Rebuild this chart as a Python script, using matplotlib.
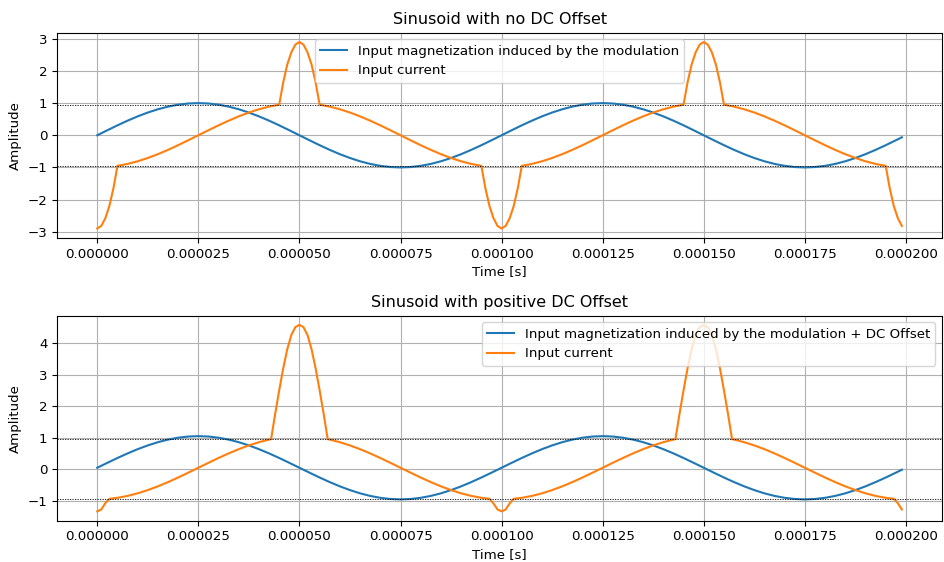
import numpy as np
import matplotlib
matplotlib.use("Agg")
import matplotlib.pyplot as plt

plt.rcParams['font.size'] = 9.6

# Tiempos en microsegundos (se pasan a segundos al dibujar)
t_mag_us = [0, 2.5, 5, 7.5, 10, 12.5, 15, 17.5, 20, 22.5, 25, 27.5, 30, 32.5, 35, 37.5,
            40, 42.5, 45, 47.5, 50, 52.5, 55, 57.5, 60, 62.5, 65, 67.5, 70, 72.5, 75, 77.5,
            80, 82.5, 85, 87.5, 90, 92.5, 95, 97.5, 100, 102.5, 105, 107.5, 110, 112.5, 115, 117.5,
            120, 122.5, 125, 127.5, 130, 132.5, 135, 137.5, 140, 142.5, 145, 147.5, 150, 152.5, 155, 157.5,
            160, 162.5, 165, 167.5, 170, 172.5, 175, 177.5, 180, 182.5, 185, 187.5, 190, 192.5, 195, 197.5, 199]

# Magnetizacion sin offset
mag_no_dc = [0, 0.156, 0.309, 0.454, 0.588, 0.707, 0.809, 0.891, 0.951, 0.988,
             1.0, 0.988, 0.951, 0.891, 0.809, 0.707, 0.588, 0.454, 0.309, 0.156,
             0, -0.156, -0.309, -0.454, -0.588, -0.707, -0.809, -0.891, -0.951, -0.988,
             -1.0, -0.988, -0.951, -0.891, -0.809, -0.707, -0.588, -0.454, -0.309, -0.156,
             0, 0.156, 0.309, 0.454, 0.588, 0.707, 0.809, 0.891, 0.951, 0.988,
             1.0, 0.988, 0.951, 0.891, 0.809, 0.707, 0.588, 0.454, 0.309, 0.156,
             0, -0.156, -0.309, -0.454, -0.588, -0.707, -0.809, -0.891, -0.951, -0.988,
             -1.0, -0.988, -0.951, -0.891, -0.809, -0.707, -0.588, -0.454, -0.309, -0.156,
             -0.063]

# Magnetizacion con offset DC positivo
mag_dc = [0.05, 0.206, 0.359, 0.504, 0.638, 0.757, 0.859, 0.941, 1.001, 1.038,
          1.05, 1.038, 1.001, 0.941, 0.859, 0.757, 0.638, 0.504, 0.359, 0.206,
          0.05, -0.106, -0.259, -0.404, -0.538, -0.657, -0.759, -0.841, -0.901, -0.938,
          -0.95, -0.938, -0.901, -0.841, -0.759, -0.657, -0.538, -0.404, -0.259, -0.106,
          0.05, 0.206, 0.359, 0.504, 0.638, 0.757, 0.859, 0.941, 1.001, 1.038,
          1.05, 1.038, 1.001, 0.941, 0.859, 0.757, 0.638, 0.504, 0.359, 0.206,
          0.05, -0.106, -0.259, -0.404, -0.538, -0.657, -0.759, -0.841, -0.901, -0.938,
          -0.95, -0.938, -0.901, -0.841, -0.759, -0.657, -0.538, -0.404, -0.259, -0.106,
          -0.013]

# Corriente de entrada sin offset
t_cur_us = [0, 1, 2, 3, 4, 5, 7.5, 10, 12.5, 15, 17.5, 20, 22.5, 25, 27.5, 30, 32.5, 35, 37.5, 40, 42.5,
            45, 46, 47, 48, 49, 50, 51, 52, 53, 54, 55,
            57.5, 60, 62.5, 65, 67.5, 70, 72.5, 75, 77.5, 80, 82.5, 85, 87.5, 90, 92.5,
            95, 96, 97, 98, 99, 100, 101, 102, 103, 104, 105,
            107.5, 110, 112.5, 115, 117.5, 120, 122.5, 125, 127.5, 130, 132.5, 135, 137.5, 140, 142.5,
            145, 146, 147, 148, 149, 150, 151, 152, 153, 154, 155,
            157.5, 160, 162.5, 165, 167.5, 170, 172.5, 175, 177.5, 180, 182.5, 185, 187.5, 190, 192.5,
            195, 196, 197, 198, 199]
cur_no_dc = [-2.9, -2.82, -2.58, -2.2, -1.65, -0.951,
             -0.891, -0.809, -0.707, -0.588, -0.454, -0.309, -0.156, 0, 0.156, 0.309, 0.454, 0.588, 0.707, 0.809, 0.891,
             0.951, 1.65, 2.2, 2.58, 2.82, 2.9, 2.82, 2.58, 2.2, 1.65, 0.951,
             0.891, 0.809, 0.707, 0.588, 0.454, 0.309, 0.156, 0, -0.156, -0.309, -0.454, -0.588, -0.707, -0.809, -0.891,
             -0.951, -1.65, -2.2, -2.58, -2.82, -2.9, -2.82, -2.58, -2.2, -1.65, -0.951,
             -0.891, -0.809, -0.707, -0.588, -0.454, -0.309, -0.156, 0, 0.156, 0.309, 0.454, 0.588, 0.707, 0.809, 0.891,
             0.951, 1.65, 2.2, 2.58, 2.82, 2.9, 2.82, 2.58, 2.2, 1.65, 0.951,
             0.891, 0.809, 0.707, 0.588, 0.454, 0.309, 0.156, 0, -0.156, -0.309, -0.454, -0.588, -0.707, -0.809, -0.891,
             -0.951, -1.65, -2.2, -2.58, -2.82]

# Corriente de entrada con offset DC
t_cur_dc_us = [0, 1, 2, 3, 5, 7.5, 10, 12.5, 15, 17.5, 20, 22.5, 25, 27.5, 30, 32.5, 35, 37.5, 40, 42.5,
               43, 44, 45, 46, 47, 48, 49, 50, 51, 52, 53, 54, 55, 56, 57,
               57.5, 60, 62.5, 65, 67.5, 70, 72.5, 75, 77.5, 80, 82.5, 85, 87.5, 90, 92.5, 95,
               97, 98, 99, 100, 101, 102, 103,
               105, 107.5, 110, 112.5, 115, 117.5, 120, 122.5, 125, 127.5, 130, 132.5, 135, 137.5, 140, 142.5,
               143, 144, 145, 146, 147, 148, 149, 150, 151, 152, 153, 154, 155, 156, 157,
               157.5, 160, 162.5, 165, 167.5, 170, 172.5, 175, 177.5, 180, 182.5, 185, 187.5, 190, 192.5, 195,
               197, 198, 199]
cur_dc = [-1.33, -1.27, -1.07, -0.932,
          -0.901, -0.841, -0.759, -0.657, -0.538, -0.404, -0.259, -0.106, 0.05, 0.206, 0.359, 0.504, 0.638, 0.757, 0.859, 0.941,
          0.955, 1.75, 2.5, 3.2, 3.8, 4.25, 4.5, 4.57, 4.5, 4.25, 3.8, 3.2, 2.5, 1.75, 0.955,
          0.941, 0.859, 0.757, 0.638, 0.504, 0.359, 0.206, 0.05, -0.106, -0.259, -0.404, -0.538, -0.657, -0.759, -0.841, -0.901,
          -0.932, -1.08, -1.27, -1.33, -1.27, -1.08, -0.932,
          -0.901, -0.841, -0.759, -0.657, -0.538, -0.404, -0.259, -0.106, 0.05, 0.206, 0.359, 0.504, 0.638, 0.757, 0.859, 0.941,
          0.955, 1.75, 2.5, 3.2, 3.8, 4.25, 4.5, 4.57, 4.5, 4.25, 3.8, 3.2, 2.5, 1.75, 0.955,
          0.941, 0.859, 0.757, 0.638, 0.504, 0.359, 0.206, 0.05, -0.106, -0.259, -0.404, -0.538, -0.657, -0.759, -0.841, -0.901,
          -0.932, -1.07, -1.27]

threshold = 0.95

fig, (ax1, ax2) = plt.subplots(2, 1, figsize=(9.44, 5.62), dpi=100)
fig.subplots_adjust(left=0.0604, right=0.998, top=0.9418, bottom=0.0735, hspace=0.379)

# Grafica superior
ax1.plot(np.array(t_mag_us) * 1e-6, mag_no_dc, label='Input magnetization induced by the modulation')
ax1.plot(np.array(t_cur_us) * 1e-6, cur_no_dc, label='Input current')
ax1.axhline(threshold, color='black', linestyle=(0, (1.5, 1.5)), linewidth=0.6)
ax1.axhline(-threshold, color='black', linestyle=(0, (1.5, 1.5)), linewidth=0.6)
ax1.set_title('Sinusoid with no DC Offset')
ax1.set_xlabel('Time [s]', labelpad=3)
ax1.set_ylabel('Amplitude')
ax1.grid(True)
ax1.legend(loc='upper center')
ax1.ticklabel_format(axis='x', style='plain', useOffset=False)

# Grafica inferior
ax2.plot(np.array(t_mag_us) * 1e-6, mag_dc, label='Input magnetization induced by the modulation + DC Offset')
ax2.plot(np.array(t_cur_dc_us) * 1e-6, cur_dc, label='Input current')
ax2.axhline(threshold, color='black', linestyle=(0, (1.5, 1.5)), linewidth=0.6)
ax2.axhline(-threshold, color='black', linestyle=(0, (1.5, 1.5)), linewidth=0.6)
ax2.set_title('Sinusoid with positive DC Offset')
ax2.set_xlabel('Time [s]', labelpad=3)
ax2.set_ylabel('Amplitude')
ax2.grid(True)
ax2.legend(loc='upper right')
ax2.ticklabel_format(axis='x', style='plain', useOffset=False)

plt.savefig('out.png', dpi=100)
plt.close()
